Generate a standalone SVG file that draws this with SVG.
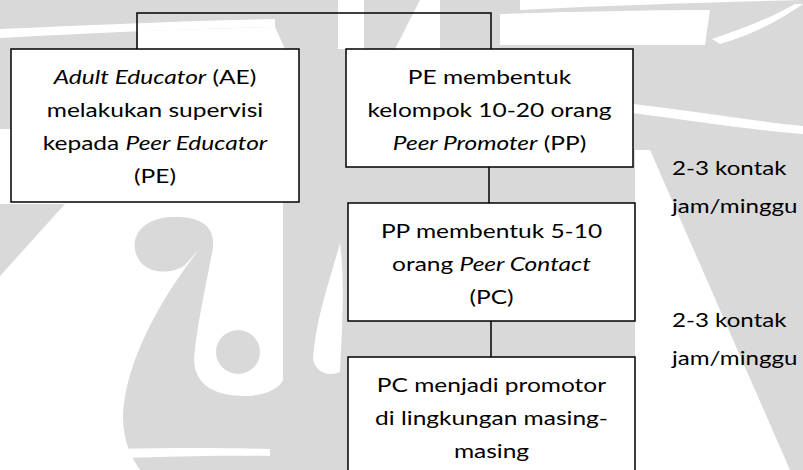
<svg xmlns="http://www.w3.org/2000/svg" width="803" height="470" viewBox="0 0 803 470">
<style>
.box{fill:#fff;stroke:#000;stroke-width:1.5}
.t{font-family:Lato,"Open Sans",sans-serif;font-size:19px;fill:#000;text-anchor:middle}
.l{font-family:Lato,"Open Sans",sans-serif;font-size:19px;fill:#000}
.i{font-style:italic}
.c{fill:none;stroke:#000;stroke-width:1.5}
.wm{fill:#d9d9d9}
.wh{fill:#fff}
</style>
<rect width="803" height="470" fill="#fff"/>
<g id="watermark">
<rect class="wm" x="0" y="0" width="803" height="49"/>
<path class="wh" d="M0,29 C90,25 180,21 275,19 L275,27 C180,29 90,33 0,38 Z"/>
<path class="wh" d="M138,31 L275,27 L285,49 L138,49 Z"/>
<rect class="wh" x="338" y="0" width="26" height="49"/>
<path class="wh" d="M395,49 L420,0 L440,0 L440,49 Z"/>
<path class="wh" d="M500,14 C560,12 640,10 710,10 L705,45 L500,45 Z"/>
<path class="wh" d="M520,10 C620,5 720,2 803,0 L803,-2 L520,-2 Z"/>
<path class="wh" d="M712,39 C740,30 770,18 795,4 L803,4 C780,20 750,36 720,44 Z"/>
<rect class="wm" x="0" y="49" width="11" height="80"/>
<rect class="wm" x="283" y="49" width="520" height="156"/>
<path class="wh" d="M633,104 C700,112 760,122 803,126 L803,134 C760,131 700,122 633,113 Z"/>
<path class="wm" d="M0,204 L65,204 L0,276 Z"/>
<path class="wm" d="M123,415 C126,360 160,300 200,248 L185,265 C170,276 145,273 138,258 C128,240 140,218 172,217 C200,216 215,225 213,248 C205,290 196,330 194,360 C195,385 215,396 245,396 C265,396 280,388 283,380 L283,204 L803,204 L803,470 L140,470 C130,455 123,440 123,415 Z"/>
<circle class="wm" cx="238" cy="352" r="22"/>
<path class="wh" d="M340,243 C330,280 315,320 313,360 C318,375 330,376 340,372 C342,330 345,280 340,243 Z"/>
<path class="wh" d="M30,452 C120,448 200,447 270,449 L270,456 C200,455 120,458 30,462 Z"/>
<path class="wh" d="M635,150 L650,150 L790,470 L635,470 Z"/>
</g>
<g id="connectors">
<path class="c" d="M137,49 V13 H491 V49"/>
<path class="c" d="M489,167 V203"/>
<path class="c" d="M491,321 V357"/>
</g>
<g id="ae">
<rect class="box" x="11" y="49" width="288" height="153"/>
<g transform="translate(155,0) scale(1.29,1)">
<text class="t" x="0" y="84"><tspan class="i">Adult Educator</tspan> (AE)</text>
<text class="t" x="0" y="117">melakukan supervisi</text>
<text class="t" x="0" y="150">kepada <tspan class="i">Peer Educator</tspan></text>
<text class="t" x="0" y="183">(PE)</text>
</g>
</g>
<g id="pe">
<rect class="box" x="346" y="49" width="287" height="118"/>
<g transform="translate(489.5,0) scale(1.29,1)">
<text class="t" x="0" y="84">PE membentuk</text>
<text class="t" x="0" y="117">kelompok 10-20 orang</text>
<text class="t" x="0" y="150"><tspan class="i">Peer Promoter</tspan> (PP)</text>
</g>
</g>
<g id="pp">
<rect class="box" x="348" y="203" width="287" height="118"/>
<g transform="translate(491.5,0) scale(1.29,1)">
<text class="t" x="0" y="238">PP membentuk 5-10</text>
<text class="t" x="0" y="271">orang <tspan class="i">Peer Contact</tspan></text>
<text class="t" x="0" y="304">(PC)</text>
</g>
</g>
<g id="pc">
<rect class="box" x="348" y="357" width="287" height="125"/>
<g transform="translate(491.5,0) scale(1.29,1)">
<text class="t" x="0" y="392">PC menjadi promotor</text>
<text class="t" x="0" y="425">di lingkungan masing-</text>
<text class="t" x="0" y="458">masing</text>
</g>
</g>
<g id="label1" transform="translate(672,0) scale(1.27,1)">
<text class="l" x="0" y="175">2-3 kontak</text>
<text class="l" x="0" y="213">jam/minggu</text>
</g>
<g id="label2" transform="translate(672,0) scale(1.27,1)">
<text class="l" x="0" y="327">2-3 kontak</text>
<text class="l" x="0" y="365">jam/minggu</text>
</g>
</svg>
